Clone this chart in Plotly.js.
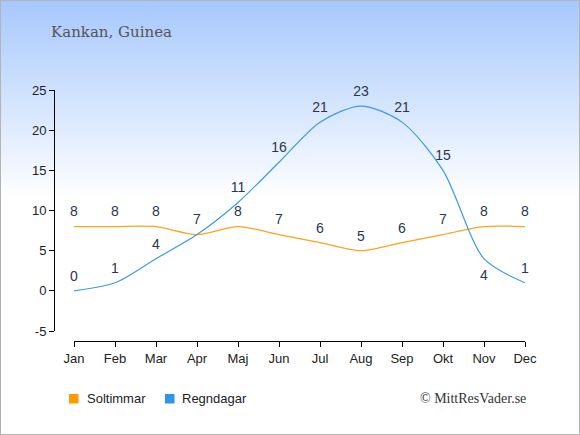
<!DOCTYPE html>
<html>
<head>
<meta charset="utf-8">
<script src="https://cdn.plot.ly/plotly-3.0.1.min.js"></script>
<style>
  html, body { margin: 0; padding: 0; }
  #wrap { position: relative; width: 580px; height: 435px;
    background: linear-gradient(to bottom, #a6c8fc 0px, #ffffff 200px, #ffffff 435px); }
  #chart { position: absolute; left: 0; top: 0; width: 580px; height: 435px; }
  #border { position: absolute; left: 0; top: 0; width: 580px; height: 435px;
    box-sizing: border-box; border: 1px solid #b4b4b4; pointer-events: none; }
</style>
</head>
<body>
<div id="wrap"><div id="chart"></div><div id="border"></div></div>
<script>
const months = ["Jan","Feb","Mar","Apr","Maj","Jun","Jul","Aug","Sep","Okt","Nov","Dec"];
const soltimmar = [8,8,8,7,8,7,6,5,6,7,8,8];
const regndagar = [0,1,4,7,11,16,21,23,21,15,4,1];
const yTicks = [-5,0,5,10,15,20,25];
const seriesNames = ["Soltimmar","Regndagar"];
const titleText = "Kankan, Guinea";
const creditText = "© MittResVader.se";

const orange = "#ffa31a";
const blue = "#3a9be8";
const legendColors = ["#ff9a00", "#2f95e8"];
const labelFont = {family: "Liberation Sans, Arial, sans-serif", size: 14, color: "#2b3550"};

const regnPos = regndagar.map((v,i) => i === 10 ? "bottom center" : "top center");
const regnMarkerSize = regndagar.map((v,i) => i === 10 ? 15 : 9);
// where both series share a value, only one label is drawn
const regnText = regndagar.map((v,i) => v === soltimmar[i] ? "" : String(v));

const traces = [
  {x: months, y: soltimmar, mode: "lines+markers+text", text: soltimmar.map(String),
   textposition: "top center", textfont: labelFont, marker: {size: 9, opacity: 0},
   line: {color: orange, width: 1.2, shape: "spline", smoothing: 0.8},
   name: seriesNames[0], showlegend: false, hoverinfo: "skip", cliponaxis: false},
  {x: months, y: regndagar, mode: "lines+markers+text", text: regnText,
   textposition: regnPos, textfont: labelFont, marker: {size: regnMarkerSize, opacity: 0},
   line: {color: blue, width: 1.2, shape: "spline", smoothing: 0.8},
   name: seriesNames[1], showlegend: false, hoverinfo: "skip", cliponaxis: false}
];

const plotL = 54, plotR = 525, plotT = 90, plotB = 341;
const W = plotR - plotL, H = plotB - plotT;
const px = v => (v - plotL) / W;       // pixel x -> paper
const py = v => (plotB - v) / H;       // pixel y -> paper

const legendItems = [
  {sq: 69, tx: 85}, {sq: 165, tx: 180}
];
const shapes = legendItems.map((it, i) => ({
  type: "rect", xref: "paper", yref: "paper",
  x0: px(it.sq), x1: px(it.sq + 9.5), y0: py(403.5), y1: py(394),
  fillcolor: legendColors[i], line: {width: 0}
}));
const annotations = legendItems.map((it, i) => ({
  text: seriesNames[i], xref: "paper", yref: "paper", x: px(it.tx), y: py(398.5),
  xanchor: "left", yanchor: "middle", showarrow: false,
  font: {size: 13, color: "#222"}
}));
annotations.push({text: creditText, xref: "paper", yref: "paper", x: px(528), y: py(398),
  xanchor: "right", yanchor: "middle", showarrow: false,
  font: {family: "Liberation Serif, serif", size: 14, color: "#333"}});

const layout = {
  width: 580, height: 435,
  margin: {l: plotL, r: 580 - plotR, t: plotT, b: 435 - plotB},
  paper_bgcolor: "rgba(0,0,0,0)",
  plot_bgcolor: "rgba(0,0,0,0)",
  showlegend: false,
  font: {family: "Liberation Sans, Arial, sans-serif", color: "#222"},
  title: {text: titleText, font: {family: "DejaVu Serif, serif", size: 15, color: "#555555"},
          x: 51/580, xref: "container", xanchor: "left", y: 1 - 32/435, yref: "container", yanchor: "middle"},
  xaxis: {
    type: "category", range: [0, 11], domain: [(74 - plotL)/W, 1],
    anchor: "free", position: 0,
    showline: true, linecolor: "#000", linewidth: 1,
    ticks: "outside", ticklen: 5, tickcolor: "#000",
    showgrid: false, zeroline: false, fixedrange: true,
    tickfont: {size: 13, color: "#222"}
  },
  yaxis: {
    range: [-5, 25], domain: [(plotB - 331)/H, 1],
    anchor: "free", position: 0,
    tickvals: yTicks, ticktext: yTicks.map(String),
    showline: true, linecolor: "#000", linewidth: 1,
    ticks: "outside", ticklen: 5, tickcolor: "#000",
    showgrid: false, zeroline: false, fixedrange: true,
    tickfont: {size: 13, color: "#222"}
  },
  shapes: shapes,
  annotations: annotations
};

Plotly.newPlot("chart", traces, layout, {displayModeBar: false, staticPlot: true});
</script>
</body>
</html>
